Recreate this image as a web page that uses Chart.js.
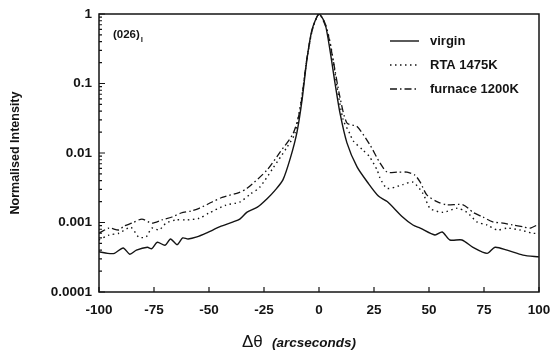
<!DOCTYPE html>
<html>
<head>
<meta charset="utf-8">
<script src="https://cdn.jsdelivr.net/npm/chart.js@4/dist/chart.umd.min.js"></script>
<style>
  html, body { margin: 0; padding: 0; background: #fff; }
  #wrap { width: 553px; height: 355px; }
</style>
</head>
<body>
<div id="wrap"><canvas id="myChart" width="553" height="355"></canvas></div>
<script>
// tick values and labels
const xTicks = [-100, -75, -50, -25, 0, 25, 50, 75, 100];
const yTicks = [0.0001, 0.001, 0.01, 0.1, 1];
const yTickLabels = ["0.0001", "0.001", "0.01", "0.1", "1"];

// virgin (solid)
const virginX = [-100, -96, -93, -89, -86, -83, -78, -76, -73.5, -70, -67.5, -64.5, -62, -59.5, -55.5, -51, -45, -39, -36, -32.7,
  -28, -23.6, -20, -16.4, -13, -10, -7.7, -5.5, -3.2, 0, 2.7, 5, 7.3, 9.5, 12.7, 17.3, 22.3, 27, 31, 38,
  42.7, 46, 52.7, 56, 59.5, 65, 70, 76.4, 80, 85.5, 92.7, 100];
const virginY = [3.8e-4, 3.6e-4, 3.6e-4, 4.3e-4, 3.5e-4, 4.0e-4, 4.4e-4, 4.2e-4, 5.2e-4, 4.7e-4, 5.8e-4, 4.8e-4, 6.0e-4, 5.8e-4, 6.2e-4, 7.1e-4, 8.7e-4, 1.02e-3, 1.12e-3, 1.41e-3,
  1.66e-3, 2.2e-3, 2.9e-3, 4.1e-3, 8.5e-3, 0.02, 0.058, 0.22, 0.59, 1, 0.74, 0.30, 0.10, 0.038, 0.014, 0.0063, 0.0037, 0.0024, 0.0020, 0.0012,
  9.2e-4, 8.3e-4, 6.6e-4, 7.3e-4, 5.6e-4, 5.6e-4, 4.4e-4, 3.6e-4, 4.4e-4, 4.0e-4, 3.4e-4, 3.2e-4];

// RTA 1475K (dotted)
const rtaX = [-100, -95.5, -91, -85.5, -82, -78.6, -76, -72.7, -69.5, -65, -60, -54.5, -50, -42.3, -36, -31, -27, -21, -14.5, -11,
  -8, -5.5, -3, 0, 3, 5.5, 8.2, 11, 14, 15.5, 20, 23, 26.4, 27.7, 31, 38, 42.7, 47.3, 50.5, 56.4,
  62.7, 67.3, 71.8, 76.4, 81, 85.5, 91.4, 97.3, 100];
const rtaY = [5.6e-4, 6.6e-4, 7.0e-4, 8.5e-4, 6.2e-4, 6.2e-4, 8.3e-4, 7.8e-4, 9.8e-4, 1.09e-3, 1.09e-3, 1.15e-3, 1.37e-3, 1.78e-3, 1.97e-3, 2.6e-3, 3.2e-3, 6.0e-3, 0.0122, 0.019,
  0.06, 0.22, 0.6, 1, 0.7, 0.33, 0.089, 0.030, 0.019, 0.015, 0.011, 0.0088, 0.0057, 0.0044, 0.0031, 0.0035, 0.0038, 0.0026, 0.0016, 0.0014,
  0.0016, 0.0014, 0.00102, 9.2e-4, 7.8e-4, 8.3e-4, 7.8e-4, 7.0e-4, 7.0e-4];

// furnace 1200K (dash-dot)
const furnX = [-100, -95.5, -91, -88.6, -85, -80.5, -76, -71.4, -66.8, -62.7, -58, -54.5, -48.6, -44, -36.4, -32.7, -23.6, -17.7, -11.8, -8.6,
  -5.5, -3, 0, 3.6, 6.4, 9.5, 12.7, 17.3, 23.2, 27.7, 31, 35.5, 40, 43.6, 46, 49, 53.6, 58, 65.5, 70,
  74.5, 79, 83.6, 88, 92.7, 96, 100];
const furnY = [7.0e-4, 8.3e-4, 7.8e-4, 8.9e-4, 9.8e-4, 1.12e-3, 9.8e-4, 1.09e-3, 1.2e-3, 1.37e-3, 1.47e-3, 1.6e-3, 1.97e-3, 2.3e-3, 2.7e-3, 3.1e-3, 5.7e-3, 0.0103, 0.019, 0.042,
  0.23, 0.6, 1, 0.59, 0.22, 0.064, 0.027, 0.024, 0.013, 0.0072, 0.0053, 0.0053, 0.0053, 0.0048, 0.0038, 0.0025, 0.0020, 0.0018, 0.0018, 0.0014,
  0.0012, 0.00102, 9.8e-4, 9.2e-4, 8.7e-4, 8.3e-4, 9.5e-4];

const ink = "#141414";
const fontFam = '"Liberation Sans", Arial, sans-serif';

function pairs(xs, ys) {
  let out = [];
  for (let i = 0; i < xs.length; i++) out.push({ x: xs[i], y: ys[i] });
  return out;
}

// frame, inward ticks, legend and labels
const decor = {
  id: "decor",
  afterDraw(chart) {
    const ctx = chart.ctx;
    const a = chart.chartArea;
    const x = chart.scales.x;
    const y = chart.scales.y;
    ctx.save();
    ctx.strokeStyle = ink;
    ctx.lineWidth = 1.5;
    ctx.strokeRect(a.left, a.top, a.right - a.left, a.bottom - a.top);

    ctx.lineWidth = 1.2;
    ctx.beginPath();
    xTicks.forEach(v => {
      const px = x.getPixelForValue(v);
      ctx.moveTo(px, a.bottom);
      ctx.lineTo(px, a.bottom - 5);
    });
    yTicks.forEach((v, i) => {
      const py = y.getPixelForValue(v);
      ctx.moveTo(a.left, py);
      ctx.lineTo(a.left + 6, py);
      if (i < yTicks.length - 1) {
        for (let k = 2; k <= 9; k++) {
          const pm = y.getPixelForValue(v * k);
          ctx.moveTo(a.left, pm);
          ctx.lineTo(a.left + 3, pm);
        }
      }
    });
    ctx.stroke();

    // legend
    const rows = [41, 65, 89];
    ctx.textBaseline = "middle";
    ctx.textAlign = "left";
    ctx.fillStyle = ink;
    ctx.font = "bold 13px " + fontFam;
    chart.data.datasets.forEach((ds, i) => {
      ctx.save();
      ctx.strokeStyle = ink;
      ctx.lineWidth = ds.borderWidth;
      ctx.setLineDash(ds.borderDash || []);
      ctx.beginPath();
      ctx.moveTo(390, rows[i]);
      ctx.lineTo(419, rows[i]);
      ctx.stroke();
      ctx.restore();
      ctx.fillText(ds.label, 430, rows[i]);
    });

    // reflection label
    ctx.font = "bold 11.5px " + fontFam;
    ctx.fillText("(026)", 113, 35);
    const w = ctx.measureText("(026)").width;
    ctx.font = "bold 8px " + fontFam;
    ctx.fillText("l", 113 + w + 1, 40);

    // x axis title
    ctx.font = "17px " + fontFam;
    ctx.fillText("\u0394\u03b8", 242, 342);
    ctx.font = "italic bold 13.5px " + fontFam;
    ctx.fillText("(arcseconds)", 272, 343);
    ctx.restore();
  }
};

const config = {
  type: "line",
  data: {
    datasets: [
      { label: "virgin", data: pairs(virginX, virginY), borderColor: ink, borderWidth: 1.4, borderDash: [] },
      { label: "RTA 1475K", data: pairs(rtaX, rtaY), borderColor: ink, borderWidth: 1.4, borderDash: [1.5, 3.5] },
      { label: "furnace 1200K", data: pairs(furnX, furnY), borderColor: ink, borderWidth: 1.3, borderDash: [7, 3, 1.5, 3] }
    ]
  },
  options: {
    responsive: false,
    animation: false,
    devicePixelRatio: 1,
    layout: { padding: { top: 14, right: 14, left: 0, bottom: 0 } },
    elements: {
      point: { radius: 0 },
      line: { tension: 0.25, fill: false }
    },
    plugins: {
      legend: { display: false },
      tooltip: { enabled: false }
    },
    scales: {
      x: {
        type: "linear",
        min: -100,
        max: 100,
        afterBuildTicks: s => { s.ticks = xTicks.map(v => ({ value: v })); },
        afterFit: s => { s.height = 63; s.paddingLeft = 0; s.paddingRight = 0; },
        grid: { display: false, drawTicks: false },
        border: { display: false },
        ticks: { color: ink, padding: 10, maxRotation: 0, font: { family: fontFam, size: 13.5, weight: "bold" } }
      },
      y: {
        type: "logarithmic",
        min: 0.0001,
        max: 1,
        afterBuildTicks: s => { s.ticks = yTicks.map(v => ({ value: v })); },
        afterFit: s => { s.width = 99; s.paddingTop = 0; s.paddingBottom = 0; },
        grid: { display: false, drawTicks: false },
        border: { display: false },
        ticks: {
          color: ink,
          padding: 7,
          font: { family: fontFam, size: 13.5, weight: "bold" },
          callback: (v) => {
            const i = yTicks.indexOf(v);
            return i >= 0 ? yTickLabels[i] : "";
          }
        },
        title: {
          display: true,
          text: "Normalised Intensity",
          color: ink,
          padding: { top: 8, bottom: 0 },
          font: { family: fontFam, size: 12.5, weight: "bold" }
        }
      }
    }
  },
  plugins: [decor]
};

const myChart = new Chart(document.getElementById("myChart"), config);
</script>
</body>
</html>
